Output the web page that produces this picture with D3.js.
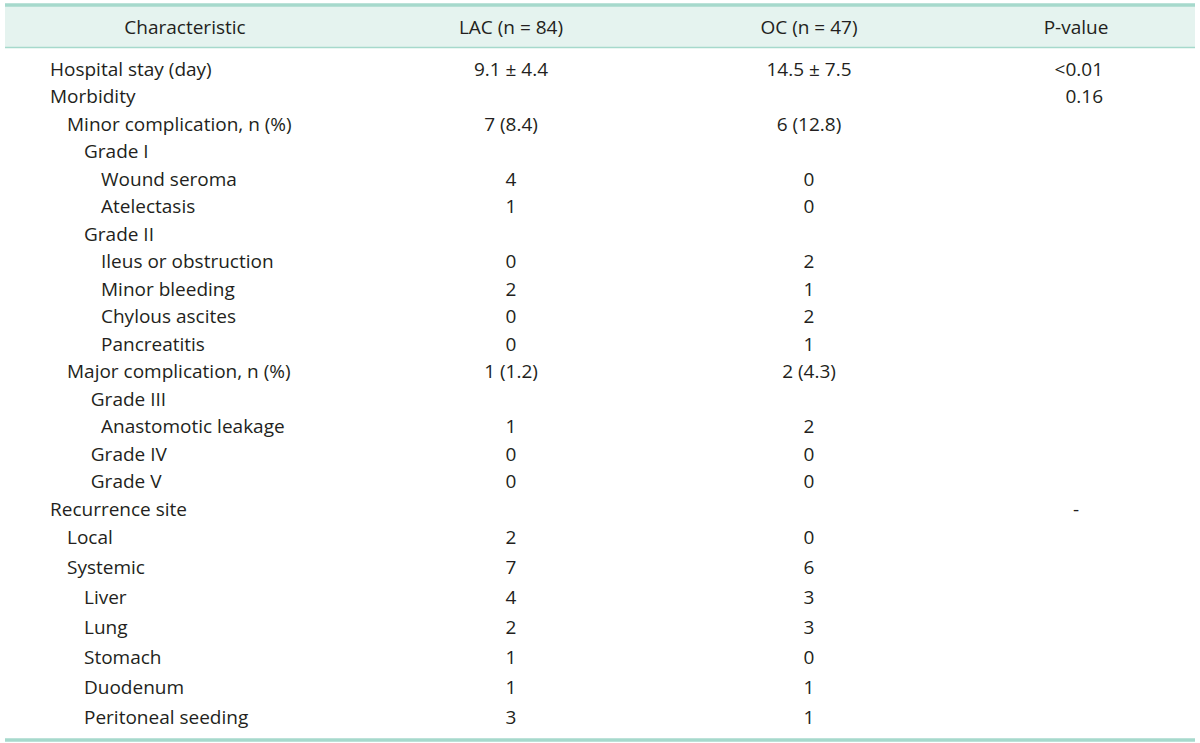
<!DOCTYPE html>
<html>
<head>
<meta charset="utf-8">
<script src="https://cdn.jsdelivr.net/npm/d3@7/dist/d3.min.js"></script>
<style>
  html, body { margin: 0; padding: 0; background: #fff; }
  svg { display: block; }
  text { font-family: "Open Sans", Lato, sans-serif; fill: #231f20; font-weight: 400; }
</style>
</head>
<body>
<svg id="chart" width="1200" height="743"></svg>
<script>
// ---- data ----
const headers = ["Characteristic", "LAC (n = 84)", "OC (n = 47)", "P-value"];
const characteristics = [
  "Hospital stay (day)", "Morbidity", "Minor complication, n (%)", "Grade I",
  "Wound seroma", "Atelectasis", "Grade II", "Ileus or obstruction",
  "Minor bleeding", "Chylous ascites", "Pancreatitis", "Major complication, n (%)",
  "Grade III", "Anastomotic leakage", "Grade IV", "Grade V",
  "Recurrence site", "Local", "Systemic", "Liver", "Lung", "Stomach",
  "Duodenum", "Peritoneal seeding"
];
const indentLevels = [0, 0, 1, 2, 3, 3, 2, 3, 3, 3, 3, 1, 2.4, 3, 2.4, 2.4, 0, 1, 1, 2, 2, 2, 2, 2];
const lacValues = [
  "9.1 ± 4.4", "", "7 (8.4)", "", "4", "1", "", "0", "2", "0", "0", "1 (1.2)",
  "", "1", "0", "0", "", "2", "7", "4", "2", "1", "1", "3"
];
const ocValues = [
  "14.5 ± 7.5", "", "6 (12.8)", "", "0", "0", "", "2", "1", "2", "1", "2 (4.3)",
  "", "2", "0", "0", "", "0", "6", "3", "3", "0", "1", "1"
];
const pValues = [
  "<0.01", "0.16", "", "", "", "", "", "", "", "", "", "",
  "", "", "", "", "-", "", "", "", "", "", "", ""
];

// ---- layout ----
const W = 1200, H = 743;
const svg = d3.select("#chart");
const lineColor = "#a6d9cc";
const headFill = "#e5f3ef";
const fontSize = 19;

const n = characteristics.length;
// rows: uniform spacing through "Local", slightly wider afterwards
const y = d3.scaleLinear().domain([0, 17, n - 1]).range([68.5, 536.5, 716.5]);
const indent = d3.scaleLinear().domain([0, 3]).range([50, 101]);
const colX = { char: 185, lac: 511, oc: 809, p: 1076 };

// header band
svg.append("rect").attr("x", 5).attr("y", 5).attr("width", 1190).attr("height", 42).attr("fill", headFill);
svg.append("line").attr("x1", 5).attr("x2", 1195).attr("y1", 5).attr("y2", 5)
  .attr("stroke", lineColor).attr("stroke-width", 3.5);
svg.append("line").attr("x1", 5).attr("x2", 1195).attr("y1", 47.5).attr("y2", 47.5)
  .attr("stroke", lineColor).attr("stroke-width", 1.5);
svg.append("line").attr("x1", 5).attr("x2", 1195).attr("y1", 740).attr("y2", 740)
  .attr("stroke", lineColor).attr("stroke-width", 3.5);

const hx = [colX.char, colX.lac, colX.oc, colX.p];
svg.append("g").selectAll("text").data(headers).join("text")
  .attr("x", (d, i) => hx[i]).attr("y", 26.5)
  .attr("text-anchor", "middle").attr("dominant-baseline", "central")
  .attr("font-size", fontSize).text(d => d);

const rows = d3.range(n);
const body = svg.append("g");
body.selectAll("text.c").data(rows).join("text").attr("class", "c")
  .attr("x", i => indent(indentLevels[i])).attr("y", i => y(i))
  .attr("dominant-baseline", "central").attr("font-size", fontSize)
  .text(i => characteristics[i]);
body.selectAll("text.l").data(rows.filter(i => lacValues[i] !== "")).join("text").attr("class", "l")
  .attr("x", colX.lac).attr("y", i => y(i)).attr("text-anchor", "middle")
  .attr("dominant-baseline", "central").attr("font-size", fontSize)
  .text(i => lacValues[i]);
body.selectAll("text.o").data(rows.filter(i => ocValues[i] !== "")).join("text").attr("class", "o")
  .attr("x", colX.oc).attr("y", i => y(i)).attr("text-anchor", "middle")
  .attr("dominant-baseline", "central").attr("font-size", fontSize)
  .text(i => ocValues[i]);
body.selectAll("text.p").data(rows.filter(i => pValues[i] !== "")).join("text").attr("class", "p")
  .attr("x", i => pValues[i] === "-" ? colX.p : 1103)
  .attr("y", i => y(i))
  .attr("text-anchor", i => pValues[i] === "-" ? "middle" : "end")
  .attr("dominant-baseline", "central").attr("font-size", fontSize)
  .text(i => pValues[i]);
</script>
</body>
</html>
